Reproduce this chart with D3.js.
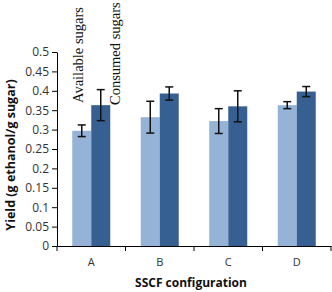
<!DOCTYPE html>
<html>
<head>
<meta charset="utf-8">
<script src="https://cdn.jsdelivr.net/npm/d3@7"></script>
<style>
body { margin: 0; background: #fff; }
</style>
</head>
<body>
<div id="chart"></div>
<script>
var categories = ["A", "B", "C", "D"];
var seriesNames = ["Available sugars", "Consumed sugars"];
var available = [0.297, 0.332, 0.322, 0.363];
var availableErr = [0.015, 0.041, 0.032, 0.009];
var consumed = [0.363, 0.393, 0.360, 0.398];
var consumedErr = [0.040, 0.017, 0.040, 0.013];
var yTicks = [0, 0.05, 0.1, 0.15, 0.2, 0.25, 0.3, 0.35, 0.4, 0.45, 0.5];

var w = 332, h = 292;
var margin = { top: 52, right: 1, bottom: 46, left: 57 };
var colors = ["#95b3d7", "#376092"];

var svg = d3.select("#chart").append("svg")
    .attr("width", w).attr("height", h);

var x = d3.scaleBand()
    .domain(categories)
    .range([margin.left, w - margin.right]);

var y = d3.scaleLinear()
    .domain([0, 0.5])
    .range([h - margin.bottom, margin.top]);

var barW = 19;

// bars
var data = [];
categories.forEach(function(c, i) {
    data.push({ cat: c, s: 0, v: available[i], e: availableErr[i] });
    data.push({ cat: c, s: 1, v: consumed[i], e: consumedErr[i] });
});

function barX(d) {
    return x(d.cat) + x.bandwidth() / 2 - barW + d.s * barW;
}

svg.selectAll("rect.bar")
    .data(data)
    .enter().append("rect")
    .attr("class", "bar")
    .attr("x", barX)
    .attr("y", function(d) { return y(d.v); })
    .attr("width", barW)
    .attr("height", function(d) { return y(0) - y(d.v); })
    .attr("fill", function(d) { return colors[d.s]; });

// error bars
var eb = svg.selectAll("g.err").data(data).enter().append("g")
    .attr("stroke", "#111").attr("stroke-width", 1.5);
eb.append("line")
    .attr("x1", function(d) { return barX(d) + barW / 2; })
    .attr("x2", function(d) { return barX(d) + barW / 2; })
    .attr("y1", function(d) { return y(d.v + d.e); })
    .attr("y2", function(d) { return y(d.v - d.e); });
[1, -1].forEach(function(sg) {
    eb.append("line")
        .attr("x1", function(d) { return barX(d) + barW / 2 - 4; })
        .attr("x2", function(d) { return barX(d) + barW / 2 + 4; })
        .attr("y1", function(d) { return y(d.v + sg * d.e); })
        .attr("y2", function(d) { return y(d.v + sg * d.e); });
});

// y axis
var yAxis = svg.append("g")
    .attr("transform", "translate(" + margin.left + ",0)")
    .call(d3.axisLeft(y).tickValues(yTicks).tickSize(5).tickSizeOuter(0)
        .tickFormat(function(d) { return d === 0 ? "0" : String(+d.toFixed(2)); }));
yAxis.select(".domain").attr("stroke", "#000");
yAxis.selectAll(".tick line").attr("stroke", "#000");
yAxis.selectAll("text")
    .attr("font-family", "'Open Sans', sans-serif")
    .attr("font-size", 12).attr("fill", "#333").attr("x", -8);

// x axis
var xAxis = svg.append("g")
    .attr("transform", "translate(0," + y(0) + ")")
    .call(d3.axisBottom(x).tickSize(0).tickSizeOuter(0));
xAxis.select(".domain").attr("stroke", "#000");
xAxis.selectAll("text")
    .attr("font-family", "'Open Sans', sans-serif")
    .attr("font-size", 11).attr("fill", "#333").attr("y", 12);
// boundary ticks between categories
var bounds = categories.map(function(c) { return x(c); }).concat([x(categories[3]) + x.bandwidth()]);
xAxis.selectAll("line.bt").data(bounds).enter().append("line")
    .attr("x1", function(d) { return d; }).attr("x2", function(d) { return d; })
    .attr("y1", 0).attr("y2", 5).attr("stroke", "#000");

// rotated series labels
var labelX = [83, 120];
var labelY = [103, 105];
svg.selectAll("text.series")
    .data(seriesNames)
    .enter().append("text")
    .attr("transform", function(d, i) {
        return "translate(" + labelX[i] + "," + labelY[i] + ") rotate(-90)";
    })
    .attr("font-family", "'Liberation Serif', serif")
    .attr("font-size", 14.5)
    .attr("fill", "#111")
    .text(function(d) { return d; });

// axis titles
svg.append("text")
    .attr("transform", "translate(15," + ((margin.top + y(0)) / 2 + 6) + ") rotate(-90)")
    .attr("text-anchor", "middle")
    .attr("font-family", "'Open Sans', sans-serif")
    .attr("font-weight", "bold").attr("font-size", 12.5).attr("fill", "#111")
    .text("Yield (g ethanol/g sugar)");

svg.append("text")
    .attr("x", 191).attr("y", 287)
    .attr("text-anchor", "middle")
    .attr("font-family", "'Open Sans', sans-serif")
    .attr("font-weight", "bold").attr("font-size", 12).attr("fill", "#111")
    .text("SSCF configuration");
</script>
</body>
</html>
